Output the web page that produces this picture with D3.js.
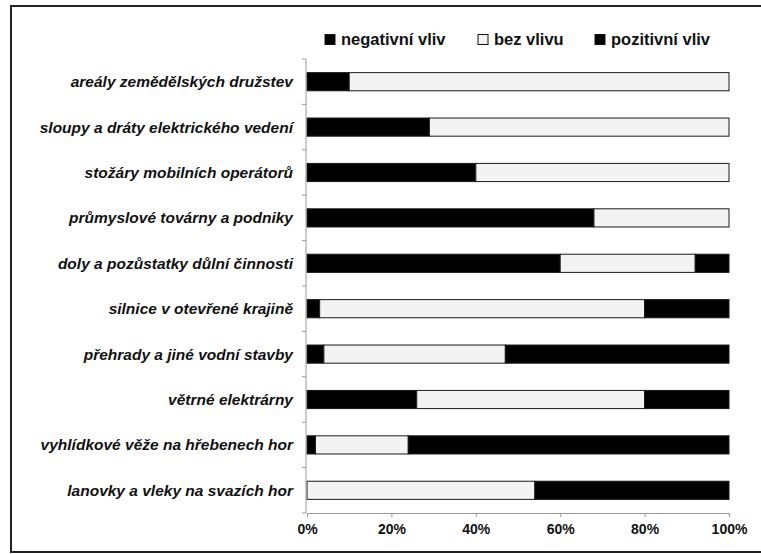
<!DOCTYPE html>
<html>
<head>
<meta charset="UTF-8">
<title>Vliv staveb na krajinu</title>
<style>
body { margin: 0; background: #fff; overflow: hidden; }
svg { display: block; font-family: "Liberation Sans", Arial, sans-serif; }
.cat { font-size: 15.5px; font-weight: bold; font-style: italic; fill: #111; }
.leg { font-size: 16.5px; font-weight: bold; fill: #111; }
.tick text { font-size: 14px; font-weight: bold; fill: #111; }
</style>
</head>
<body>
<svg></svg>
<script src="https://d3js.org/d3.v7.min.js"></script>
<script>

// kategorie odshora dolu
var categories = [
  "areály zemědělských družstev",
  "sloupy a dráty elektrického vedení",
  "stožáry mobilních operátorů",
  "průmyslové továrny a podniky",
  "doly a pozůstatky důlní činnosti",
  "silnice v otevřené krajině",
  "přehrady a jiné vodní stavby",
  "větrné elektrárny",
  "vyhlídkové věže na hřebenech hor",
  "lanovky a vleky na svazích hor"
];
var negativni = [10, 29, 40, 68, 60, 3, 4, 26, 2, 0];
var bezVlivu  = [90, 71, 60, 32, 32, 77, 43, 54, 22, 54];
var pozitivni = [0, 0, 0, 0, 8, 20, 53, 20, 76, 46];

var seriesNames = ["negativní vliv", "bez vlivu", "pozitivní vliv"];
var xTicks = [0, 20, 40, 60, 80, 100];

var width = 761, height = 554;
var colors = { "negativní vliv": "#000", "bez vlivu": "#f3f3f3", "pozitivní vliv": "#000" };

var rows = categories.map(function (c, i) {
  return { cat: c, "negativní vliv": negativni[i], "bez vlivu": bezVlivu[i], "pozitivní vliv": pozitivni[i] };
});

var svg = d3.select("svg").attr("width", width).attr("height", height);

// ramecek kolem grafu
svg.append("rect")
  .attr("x", 11).attr("y", 6)
  .attr("width", 780).attr("height", 546)
  .attr("fill", "none").attr("stroke", "#222").attr("stroke-width", 2);

var x = d3.scaleLinear().domain([0, 100]).range([307, 729]);
var y = d3.scaleBand().domain(categories).range([59, 513]).paddingInner(0.6).paddingOuter(0.3);

var stack = d3.stack().keys(seriesNames)(rows);

svg.append("g").selectAll("g")
  .data(stack)
  .enter().append("g")
  .attr("fill", function (d) { return colors[d.key]; })
  .selectAll("rect")
  .data(function (d) { return d; })
  .enter().append("rect")
  .filter(function (d) { return d[1] - d[0] > 0; })
  .attr("x", function (d) { return x(d[0]); })
  .attr("y", function (d) { return y(d.data.cat); })
  .attr("width", function (d) { return x(d[1]) - x(d[0]); })
  .attr("height", y.bandwidth())
  .attr("stroke", "#1a1a1a")
  .attr("stroke-width", 1);

// osa x
var xAxis = svg.append("g")
  .attr("transform", "translate(0,513)")
  .call(d3.axisBottom(x).tickValues(xTicks).tickSize(4).tickPadding(7)
    .tickFormat(function (d) { return d + "%"; }));
xAxis.select(".domain").attr("stroke", "#999");
xAxis.selectAll(".tick line").attr("stroke", "#999");

// osa y - jen cara s carkami mezi kategoriemi
var yTickPos = d3.range(categories.length + 1).map(function (i) { return 59 + i * (513 - 59) / categories.length; });
svg.append("line")
  .attr("x1", 306).attr("x2", 306).attr("y1", 59).attr("y2", 513)
  .attr("stroke", "#999");
svg.append("g").selectAll("line")
  .data(yTickPos)
  .enter().append("line")
  .attr("x1", 302).attr("x2", 306)
  .attr("y1", function (d) { return d; }).attr("y2", function (d) { return d; })
  .attr("stroke", "#999");

svg.append("g").selectAll("text")
  .data(categories)
  .enter().append("text")
  .attr("class", "cat")
  .attr("x", 293)
  .attr("y", function (d) { return y(d) + y.bandwidth() / 2; })
  .attr("dy", "0.35em")
  .attr("text-anchor", "end")
  .text(function (d) { return d; });

// legenda
var legX = [325, 478, 595];
var leg = svg.append("g").selectAll("g")
  .data(seriesNames)
  .enter().append("g")
  .attr("transform", function (d, i) { return "translate(" + legX[i] + ",33)"; });
leg.append("rect")
  .attr("width", 10).attr("height", 10).attr("y", 1.5)
  .attr("fill", function (d) { return colors[d]; })
  .attr("stroke", "#111");
leg.append("text")
  .attr("class", "leg")
  .attr("x", 16).attr("y", 12)
  .text(function (d) { return d; });

</script>
</body>
</html>
